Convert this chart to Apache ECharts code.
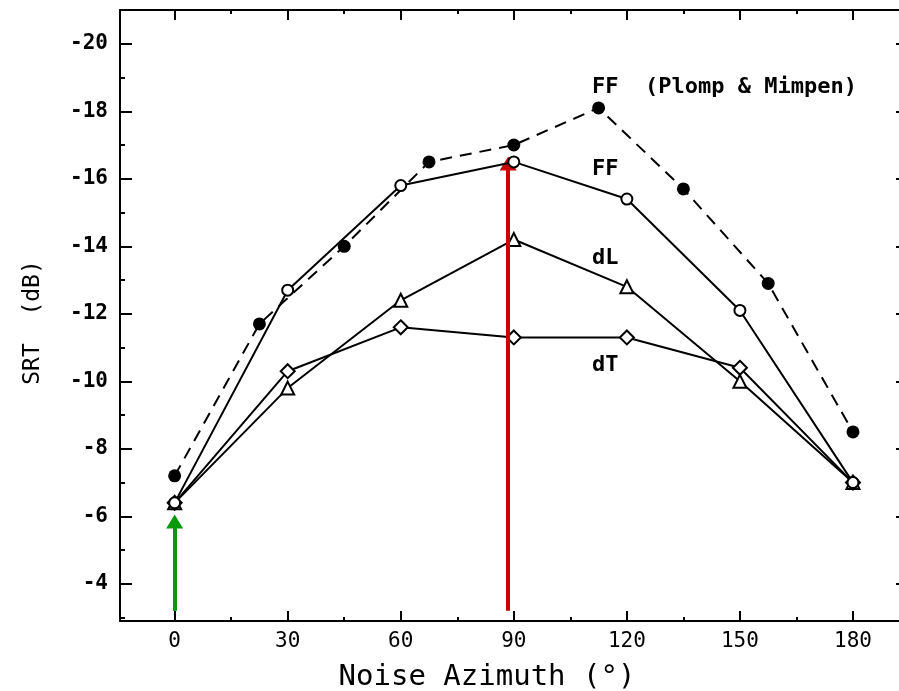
<!DOCTYPE html>
<html>
<head>
<meta charset="utf-8">
<title>SRT vs Noise Azimuth</title>
<script src="https://cdn.jsdelivr.net/npm/echarts@6.0.0/dist/echarts.min.js"></script>
<style>
    html, body { margin: 0; padding: 0; background: #fff; }
    #chart { width: 899px; height: 691px; }
</style>
</head>
<body>
<div id="chart"></div>
<script>
// 数据
const azimuthPM = [0, 22.5, 45, 67.5, 90, 112.5, 135, 157.5, 180];
const ffPlomp = [-7.2, -11.7, -14.0, -16.5, -17.0, -18.1, -15.7, -12.9, -8.5];
const azimuth = [0, 30, 60, 90, 120, 150, 180];
const ffValues = [-6.4, -12.7, -15.8, -16.5, -15.4, -12.1, -7.0];
const dLValues = [-6.4, -9.8, -12.4, -14.2, -12.8, -10.0, -7.0];
const dTValues = [-6.4, -10.3, -11.6, -11.3, -11.3, -10.4, -7.0];

// 标注箭头（方位角, 起点, 终点）
const arrowAz = [0, 88.5];
const arrowFrom = [-3.2, -3.2];
const arrowTo = [-5.85, -16.45];
const arrowColors = ['#0a990a', '#cc0000'];

const pairs = (xs, ys) => xs.map((x, i) => [x, ys[i]]);

const mono = 'DejaVu Sans Mono';
const black = '#000';

// 右边框在画面外，只露出刻度的尖端
const xBase = {
    type: 'value',
    min: -14.5,
    max: 194.6,
    splitNumber: 7,
    axisLine: { onZero: false, lineStyle: { color: black, width: 2 } },
    axisTick: { inside: true, length: 10, lineStyle: { color: black, width: 2 } },
    minorTick: { show: true, splitNumber: 2, length: 4, lineStyle: { color: black, width: 2 } },
    splitLine: { show: false }
};
const yBase = {
    type: 'value',
    inverse: true,
    min: -21,
    max: -2.9,
    splitNumber: 9,
    axisLine: { show: true, onZero: false, lineStyle: { color: black, width: 2 } },
    axisTick: { inside: true, length: 12, lineStyle: { color: black, width: 2 } },
    minorTick: { show: true, splitNumber: 2, length: 5, lineStyle: { color: black, width: 2 } },
    splitLine: { show: false }
};

const chart = echarts.init(document.getElementById('chart'));

const openMarker = { color: '#fff', borderColor: black, borderWidth: 2 };
const solidLine = { color: black, width: 2 };

chart.setOption({
    animation: false,
    grid: { left: 120, top: 10, width: 788, bottom: 70, outerBoundsMode: 'none' },
    xAxis: [
        Object.assign({}, xBase, {
            position: 'bottom',
            name: 'Noise Azimuth (°)',
            nameLocation: 'middle',
            nameGap: 42,
            nameTextStyle: { fontFamily: mono, fontSize: 29, color: black, padding: [0, 54, 0, 0] },
            axisLabel: {
                showMinLabel: false, showMaxLabel: false, margin: 10,
                fontFamily: mono, fontSize: 21, color: black
            }
        }),
        Object.assign({}, xBase, { position: 'top', axisLabel: { show: false } })
    ],
    yAxis: [
        Object.assign({}, yBase, {
            position: 'left',
            name: 'SRT  (dB)',
            nameLocation: 'middle',
            nameGap: 75,
            nameTextStyle: { fontFamily: mono, fontSize: 23, color: black, padding: [0, 14, 0, 0] },
            axisLabel: {
                showMinLabel: false, showMaxLabel: false, margin: 12,
                fontFamily: mono, fontSize: 21, fontWeight: 'bold', color: black
            }
        }),
        Object.assign({}, yBase, { position: 'right', axisLabel: { show: false } })
    ],
    series: [
        {
            name: 'FF (Plomp & Mimpen)',
            type: 'line',
            data: pairs(azimuthPM, ffPlomp),
            symbol: 'circle',
            symbolSize: 13,
            itemStyle: { color: black },
            lineStyle: { color: black, width: 2, type: [12, 8] },
            z: 2
        },
        {
            name: 'dT',
            type: 'line',
            data: pairs(azimuth, dTValues),
            symbol: 'diamond',
            symbolSize: 14,
            itemStyle: openMarker,
            lineStyle: solidLine,
            z: 3
        },
        {
            name: 'dL',
            type: 'line',
            data: pairs(azimuth, dLValues),
            symbol: 'triangle',
            symbolSize: 13,
            itemStyle: openMarker,
            lineStyle: solidLine,
            z: 4
        },
        {
            name: 'FF',
            type: 'line',
            data: pairs(azimuth, ffValues),
            symbol: 'circle',
            symbolSize: 11,
            itemStyle: openMarker,
            lineStyle: solidLine,
            z: 5,
            markLine: {
                silent: true,
                symbol: ['none', 'triangle'],
                symbolSize: [17, 14],
                label: { show: false },
                data: arrowAz.map((az, i) => [
                    { coord: [az, arrowFrom[i]], lineStyle: { color: arrowColors[i], width: 4, type: 'solid' }, itemStyle: { color: arrowColors[i] } },
                    { coord: [az, arrowTo[i]] }
                ])
            }
        }
    ],
    graphic: [
        { type: 'text', left: 592, top: 76, style: { text: 'FF  (Plomp & Mimpen)', font: 'bold 22px "DejaVu Sans Mono"', fill: black } },
        { type: 'text', left: 592, top: 158, style: { text: 'FF', font: 'bold 22px "DejaVu Sans Mono"', fill: black } },
        { type: 'text', left: 592, top: 247, style: { text: 'dL', font: 'bold 22px "DejaVu Sans Mono"', fill: black } },
        { type: 'text', left: 592, top: 354, style: { text: 'dT', font: 'bold 22px "DejaVu Sans Mono"', fill: black } }
    ]
});

window.addEventListener('resize', () => chart.resize());
</script>
</body>
</html>
